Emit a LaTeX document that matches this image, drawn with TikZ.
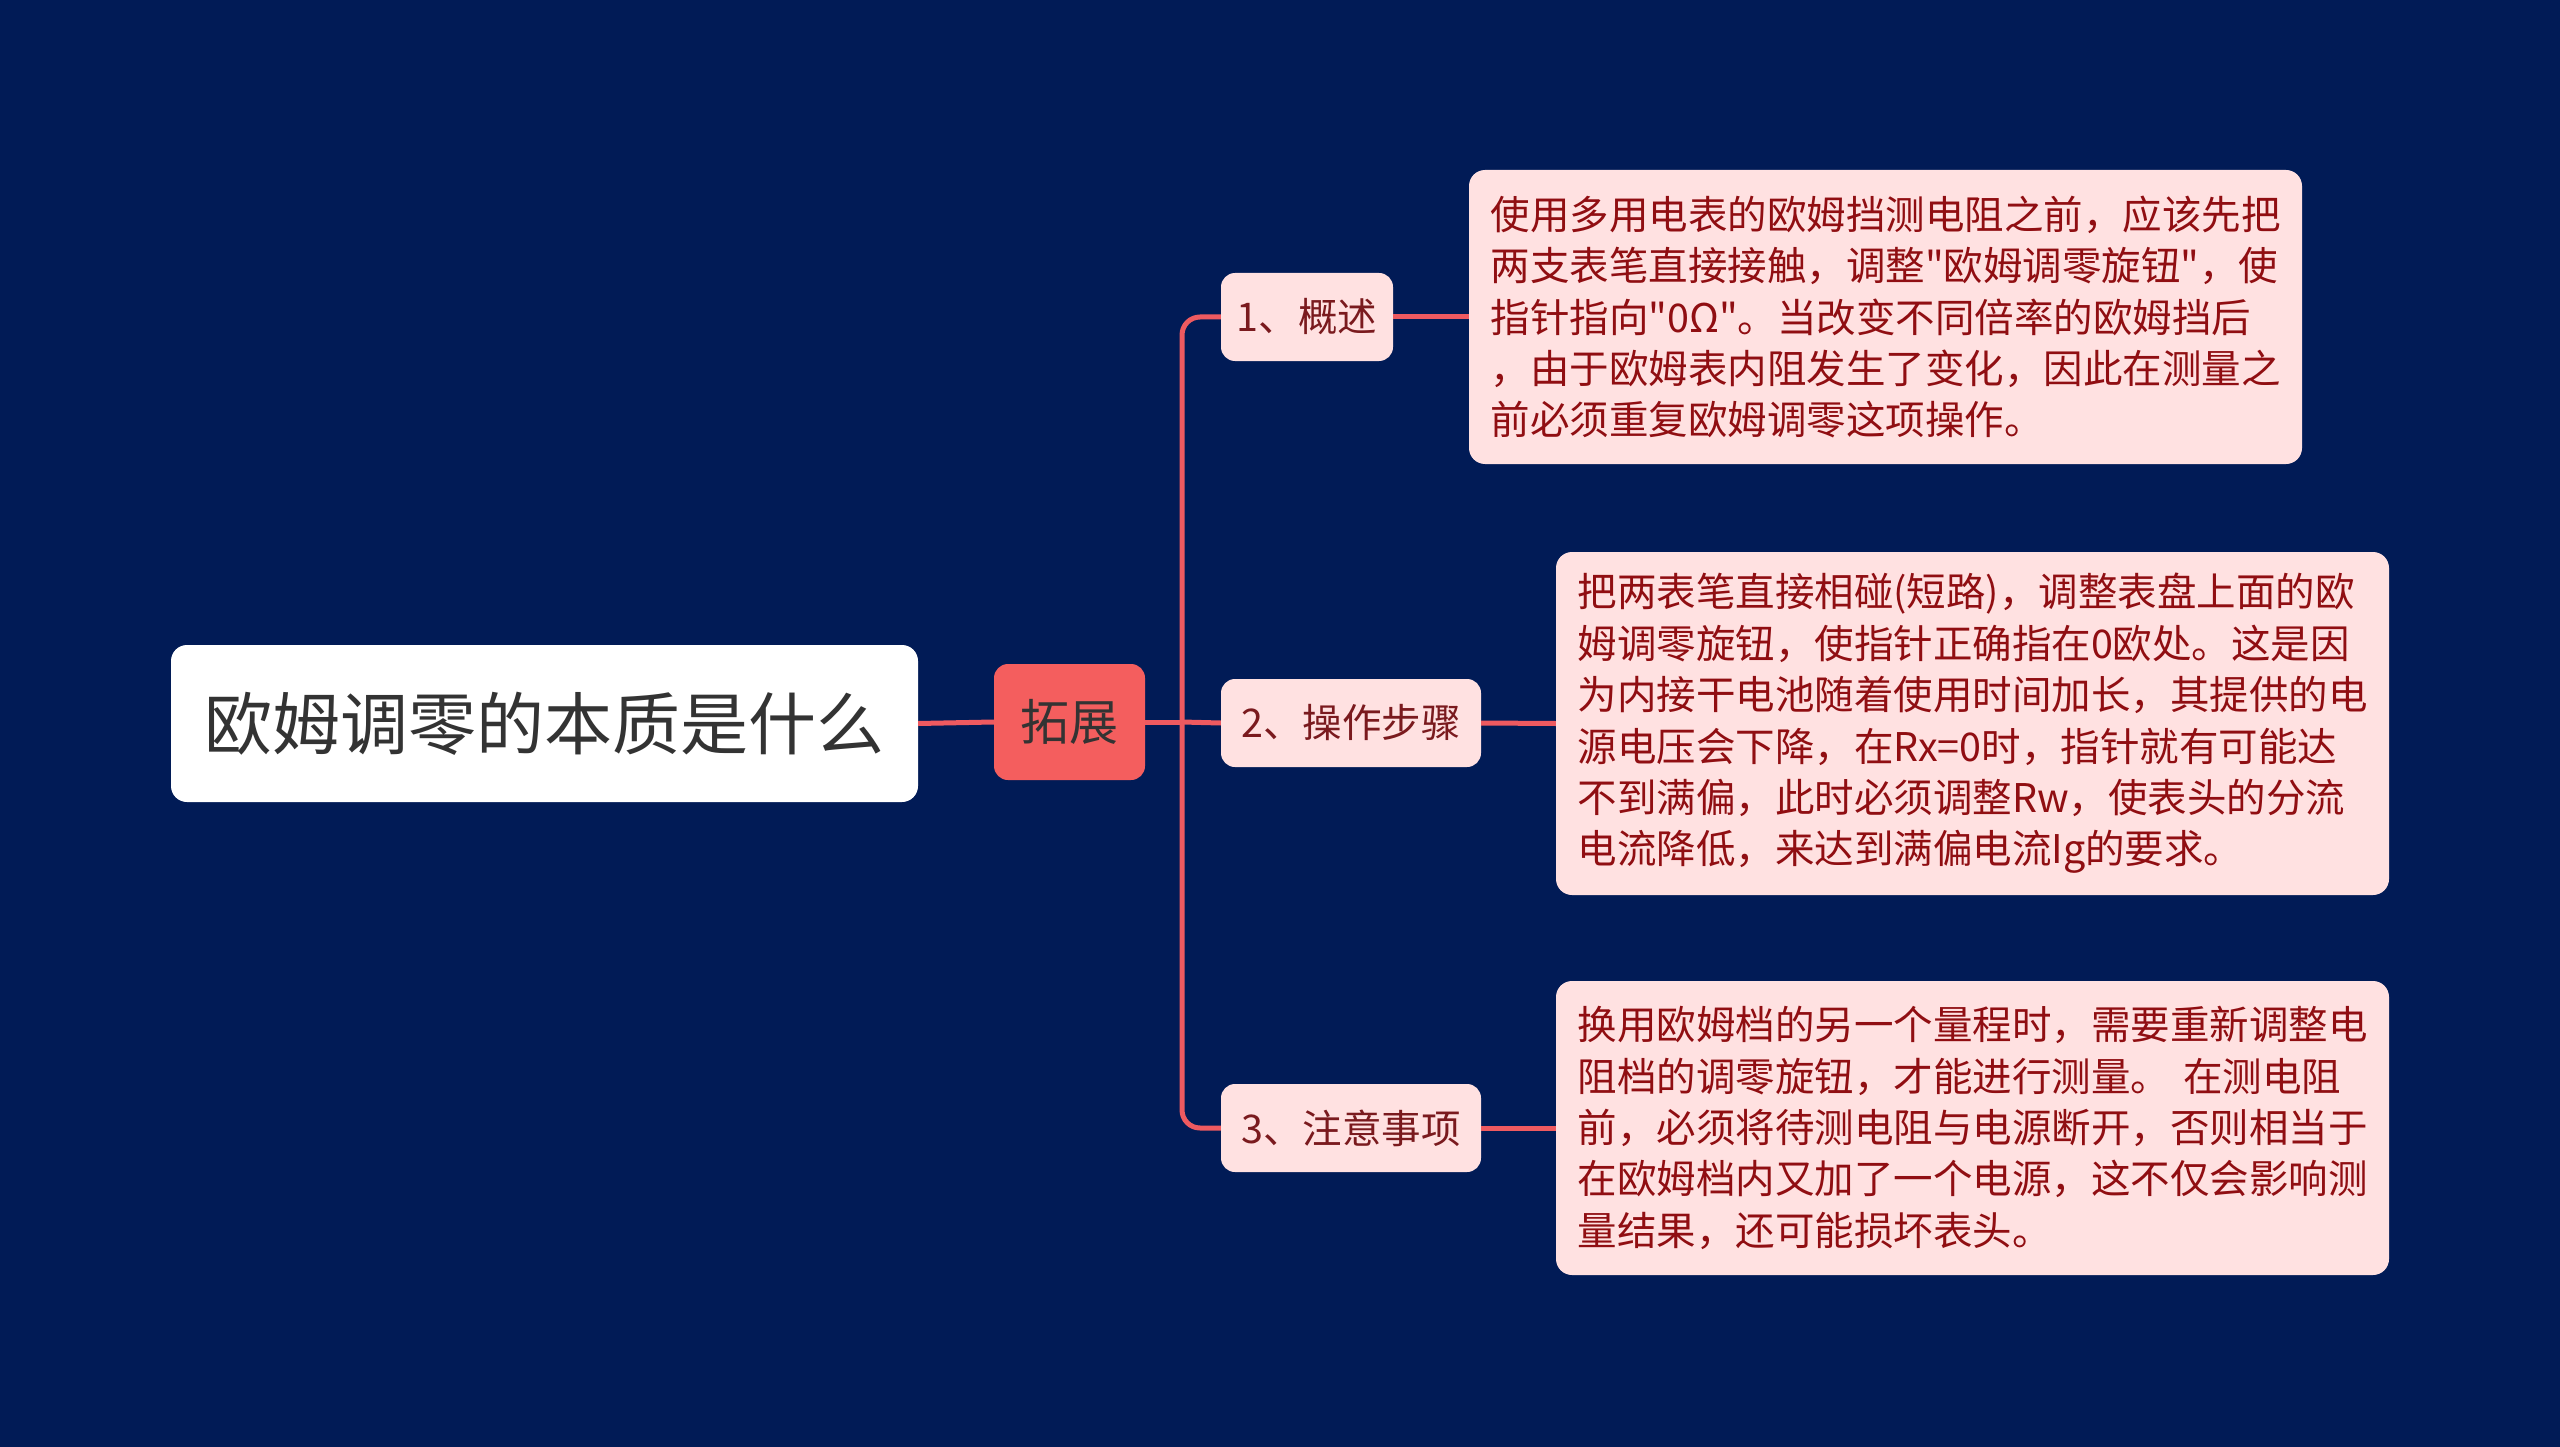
\documentclass[tikz,border=0pt]{standalone}
\usepackage{fontspec}
\setmainfont{Noto Sans CJK SC}[Ligatures=TeXOff]
\definecolor{bgnavy}{HTML}{011B56}
\definecolor{linered}{HTML}{EE5A60}
\definecolor{pinkfill}{HTML}{FFE1E1}
\definecolor{leaftext}{HTML}{900E12}
\definecolor{labeltext}{HTML}{7A1A1E}
\definecolor{hubfill}{HTML}{F45E5E}
\definecolor{roottext}{HTML}{333333}
\tikzset{
  conn/.style={draw=linered, line width=5pt},
  rootbox/.style={draw=none, fill=white, rounded corners=16pt, minimum width=747pt, minimum height=157pt, inner sep=0pt, font=\fontsize{68}{80}\selectfont, text=roottext},
  hubbox/.style={draw=none, fill=hubfill, rounded corners=14pt, minimum width=151pt, minimum height=116pt, inner sep=0pt, font=\fontsize{49}{58}\selectfont, text=roottext},
  labelbox/.style={draw=none, fill=pinkfill, rounded corners=14pt, minimum height=88pt, inner sep=0pt, font=\fontsize{39.5}{46}\selectfont, text=labeltext},
  leafbox/.style={draw=none, fill=pinkfill, rounded corners=16pt, minimum width=833pt, inner sep=0pt, text width=790pt, align=left, font=\fontsize{39.5}{51.4}\selectfont, text=leaftext},
}
\begin{document}
\begin{tikzpicture}[x=1pt,y=-1pt]
\fill[bgnavy] (0,0) rectangle (2560,1447);
\useasboundingbox (0,0) rectangle (2560,1447);

\node[rootbox] (root) at (544.5,723.5) {欧姆调零的本质是什么};
\node[hubbox] (hub) at (1069.5,722) {拓展};

\node[labelbox, minimum width=172pt] (a1) at (1307,317) {1、概述};
\node[labelbox, minimum width=260pt] (a2) at (1351,723) {2、操作步骤};
\node[labelbox, minimum width=260pt] (a3) at (1351,1128) {3、注意事项};

\node[leafbox, minimum height=294pt] (l1) at (1885.5,317) {使用多用电表的欧姆挡测电阻之前，应该先把\\两支表笔直接接触，调整"欧姆调零旋钮"，使\\指针指向"0Ω"。当改变不同倍率的欧姆挡后\\，由于欧姆表内阻发生了变化，因此在测量之\\前必须重复欧姆调零这项操作。};
\node[leafbox, minimum height=343pt] (l2) at (1972.5,723.5) {把两表笔直接相碰(短路)，调整表盘上面的欧\\姆调零旋钮，使指针正确指在0欧处。这是因\\为内接干电池随着使用时间加长，其提供的电\\源电压会下降，在Rx=0时，指针就有可能达\\不到满偏，此时必须调整Rw，使表头的分流\\电流降低，来达到满偏电流Ig的要求。};
\node[leafbox, minimum height=294pt] (l3) at (1972.5,1128) {换用欧姆档的另一个量程时，需要重新调整电\\阻档的调零旋钮，才能进行测量。 在测电阻\\前，必须将待测电阻与电源断开，否则相当于\\在欧姆档内又加了一个电源，这不仅会影响测\\量结果，还可能损坏表头。};

\coordinate (fork) at (1182,722);

\draw[conn] (root.east) -- (hub.west);
\draw[conn] (hub.east) -- (fork);
\draw[conn, rounded corners=18pt] (fork) |- (a1.west);
\draw[conn] (fork) -- (a2.west);
\draw[conn, rounded corners=18pt] (fork) |- (a3.west);
\draw[conn] (a1.east) -- (l1.west);
\draw[conn] (a2.east) -- (l2.west);
\draw[conn] (a3.east) -- (l3.west);
\end{tikzpicture}
\end{document}
